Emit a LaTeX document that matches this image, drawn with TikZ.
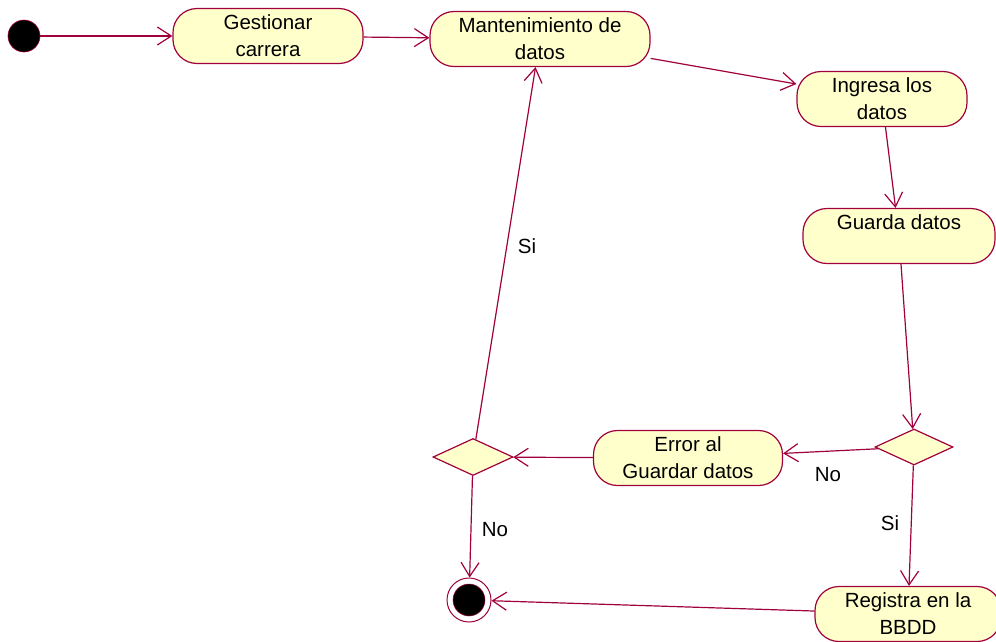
\documentclass[tikz,border=0pt]{standalone}
\usepackage{fontspec}
\setmainfont{Liberation Sans}
\usetikzlibrary{arrows.meta,shapes.geometric}
\definecolor{edgered}{RGB}{160,0,60}
\definecolor{actfill}{RGB}{255,255,204}
\begin{document}
\begin{tikzpicture}[x=1pt,y=-1pt,
  act/.style={draw=edgered, fill=actfill, line width=1.2pt, rounded corners=24pt,
    minimum height=55pt, align=center, inner sep=0pt,
    font=\fontsize{20.5}{27}\selectfont},
  dec/.style={diamond, draw=edgered, fill=actfill, line width=1.2pt,
    minimum width=78pt, minimum height=36pt, inner sep=0pt},
  flow/.style={draw=edgered, line width=1.2pt, -{Straight Barb[length=14pt,width=18pt]}},
  lbl/.style={font=\fontsize{20.5}{24}\selectfont}]
\useasboundingbox (0,0) rectangle (996,641);

% initial and final states
\node[circle, fill=black, draw=edgered, line width=0.6pt, minimum size=32pt, inner sep=0pt] (start) at (24,36) {};
\node[circle, fill=white, draw=edgered, line width=1pt, minimum size=44pt, inner sep=0pt] (stop) at (469,600) {};
\node[circle, fill=black, draw=edgered, line width=0.5pt, minimum size=32pt, inner sep=0pt] at (stop) {};

% activities
\node[act, minimum width=190pt] (gest) at (268,36) {Gestionar\\carrera};
\node[act, minimum width=220pt] (mant) at (540,39) {Mantenimiento de\\datos};
\node[act, minimum width=170pt] (ingr) at (882,99) {Ingresa los\\datos};
\node[act, minimum width=192pt] (guar) at (899,236) {Guarda datos\\~};
\node[act, minimum width=189pt] (err) at (688,458) {Error al\\Guardar datos};
\node[act, minimum width=186pt] (reg) at (908,614) {Registra en la\\BBDD};

% decisions
\node[dec] (d1) at (914,447) {};
\node[dec, minimum width=80pt, minimum height=37pt] (d2) at (473,457) {};

% transitions
\draw[flow] (start) -- (gest);
\draw[flow] (gest) -- (mant);
\draw[flow] (mant) -- (ingr);
\draw[flow] (ingr) -- (guar);
\draw[flow] (guar) -- (d1);
\draw[flow] (d1) -- (err);
\draw[flow] (d1) -- (reg);
\draw[flow] (err) -- (d2);
\draw[flow] (d2) -- (mant);
\draw[flow] (d2) -- (stop);
\draw[flow] (reg) -- (stop);

% guard labels
\node[lbl] (lsi1) at (527,246) {Si};
\node[lbl] (lno1) at (828,475) {No};
\node[lbl] (lsi2) at (890,523) {Si};
\node[lbl] (lno2) at (495,530) {No};
\end{tikzpicture}
\end{document}
